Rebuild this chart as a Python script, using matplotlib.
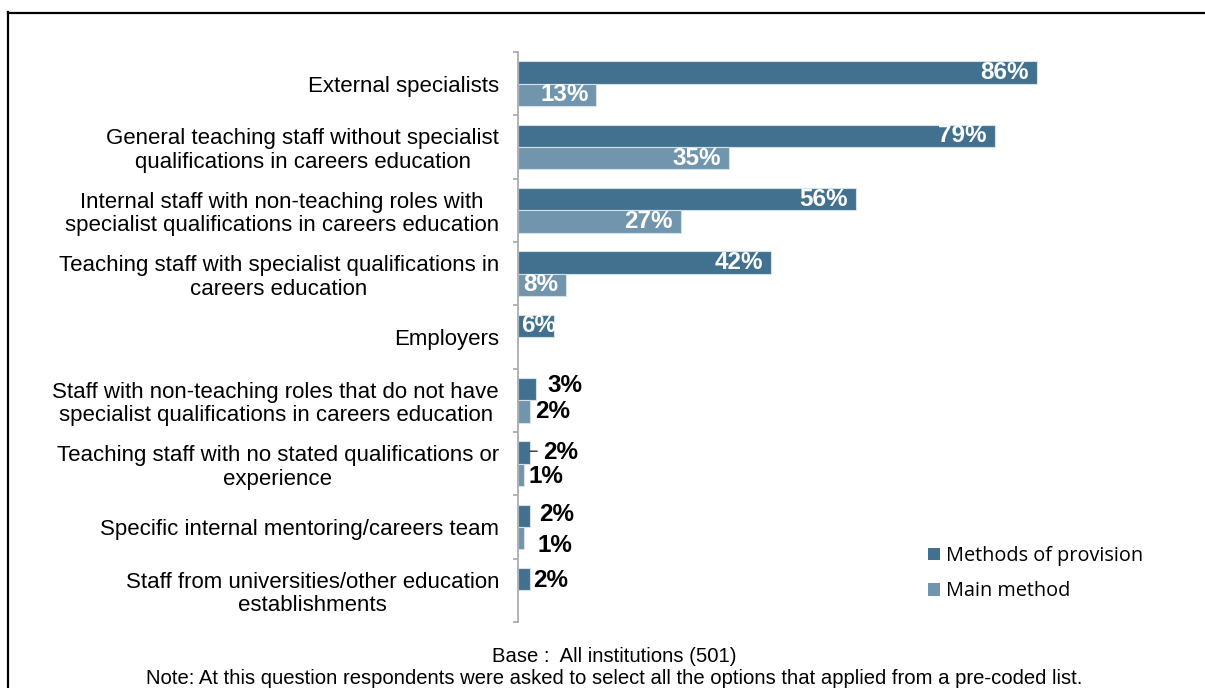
import numpy as np
import matplotlib.pyplot as plt
from matplotlib.lines import Line2D
from matplotlib.patches import Patch

categories = [
    "External specialists",
    "General teaching staff without specialist\nqualifications in careers education",
    "Internal staff with non-teaching roles with\nspecialist qualifications in careers education",
    "Teaching staff with specialist qualifications in\ncareers education",
    "Employers",
    "Staff with non-teaching roles that do not have\nspecialist qualifications in careers education",
    "Teaching staff with no stated qualifications or\nexperience",
    "Specific internal mentoring/careers team",
    "Staff from universities/other education\nestablishments",
]
provision = [86, 79, 56, 42, 6, 3, 2, 2, 2]
main_method = [13, 35, 27, 8, None, 2, 1, 1, None]

series_names = ["Methods of provision", "Main method"]
dark = "#41718f"
light = "#7095ad"

# nudges (pixels) for the small labels sitting outside their bars
outside_nudge_dark = {5: (11, -4), 6: (13, 0), 7: (9, -1), 8: (3, 1)}
outside_nudge_light = {5: (5, 0), 6: (4, 2), 7: (13, 7)}

DPI = 100
fig = plt.figure(figsize=(12.05, 6.88), dpi=DPI)
ax = fig.add_axes([518 / 1205, 66 / 688, 603.5 / 1205, 570 / 688])

n = len(categories)
y = np.arange(n) + 0.5
h = 0.355

prov_vals = np.array(provision, dtype=float)
main_vals = np.array([np.nan if v is None else v for v in main_method])

ax.barh(y - h / 2, prov_vals, height=h, color=dark, edgecolor="#d5e1e9", linewidth=0.8)
ax.barh(y + h / 2, np.nan_to_num(main_vals), height=h, color=light,
        edgecolor="#d5e1e9", linewidth=np.where(np.isnan(main_vals), 0, 0.8))

ax.set_xlim(0, 100)
ax.set_ylim(n, 0)

lab_font = dict(family=["Liberation Sans", "DejaVu Sans"], fontsize=17.5, fontweight="bold")
px = 72 / DPI  # points per pixel


def put_label(val, yc, nudge):
    if val >= 5:
        ax.annotate(f"{val:g}%", (val, yc), xytext=(-8 * px, 0), textcoords="offset points",
                    ha="right", va="center", color="white", **lab_font)
    else:
        dx, dy = nudge
        ax.annotate(f"{val:g}%", (val, yc), xytext=(dx * px, -dy * px), textcoords="offset points",
                    ha="left", va="center", color="black", **lab_font)


for i, v in enumerate(provision):
    if v == 6:
        # label reads from the axis and runs past the short bar
        ax.annotate(f"{v}%", (0, y[i] - h / 2), xytext=(3 * px, 0), textcoords="offset points",
                    ha="left", va="center", color="white", **lab_font)
    else:
        put_label(v, y[i] - h / 2, outside_nudge_dark.get(i, (0, 0)))

for i, v in enumerate(main_method):
    if v is not None:
        put_label(v, y[i] + h / 2, outside_nudge_light.get(i, (0, 0)))

# little leader line on the "Teaching staff with no stated..." label
ax.annotate("", xy=(provision[6], y[6] - h / 2 - 0.02), xytext=(provision[6] + 1.2, y[6] - h / 2 - 0.02),
            arrowprops=dict(arrowstyle="-", color="black", lw=0.8, shrinkA=0, shrinkB=0))

# axes styling
for s in ["top", "right", "bottom"]:
    ax.spines[s].set_visible(False)
ax.spines["left"].set_color("#a6a6a6")
ax.spines["left"].set_linewidth(1.2)
ax.set_xticks([])
ax.set_yticks(y)
ax.set_yticklabels(categories, family=["Liberation Sans", "DejaVu Sans"], fontsize=16,
                   multialignment="center", linespacing=1.15)
ax.set_yticks(np.arange(n + 1), minor=True)
ax.tick_params(axis="y", which="major", length=0, pad=19 * px)
ax.tick_params(axis="y", which="minor", length=5 * px, color="#a6a6a6", width=1.2)

handles = [Patch(facecolor=dark, edgecolor="none"), Patch(facecolor=light, edgecolor="none")]
fig.legend(handles, series_names, loc="upper left", bbox_to_anchor=(910 / 1205, 1 - 528 / 688),
           frameon=False, prop=dict(family=["Open Sans", "DejaVu Sans"], size=14.3),
           handlelength=0.6, handleheight=0.6, handletextpad=0.3, labelspacing=0.78)

foot_font = dict(family=["Liberation Sans Narrow", "Liberation Sans"], fontsize=14.6)
fig.text(614 / 1205, 1 - 656 / 688, "Base :  All institutions (501)", ha="center", va="center", **foot_font)
fig.text(614 / 1205, 1 - 678 / 688,
         "Note: At this question respondents were asked to select all the options that applied from a pre-coded list.",
         ha="center", va="center", **foot_font)

# outer frame
fig.add_artist(Line2D([8 / 1205, 8 / 1205], [0, 1 - 12 / 688], transform=fig.transFigure, color="black", lw=1.6))
fig.add_artist(Line2D([8 / 1205, 1], [1 - 13 / 688, 1 - 13 / 688], transform=fig.transFigure, color="black", lw=1.6))

fig.savefig("out.png", dpi=DPI)
